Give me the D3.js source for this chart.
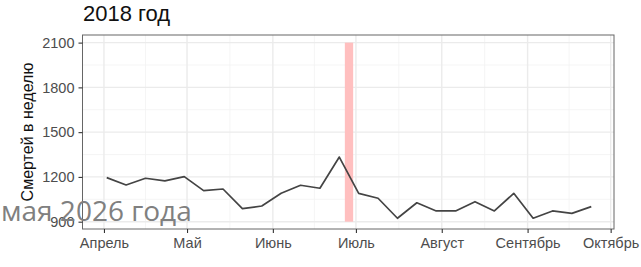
<!DOCTYPE html>
<html>
<head>
<meta charset="utf-8">
<script src="https://cdn.jsdelivr.net/npm/d3@7"></script>
<style>
  html, body { margin: 0; padding: 0; background: #fff; }
  svg { display: block; }
</style>
</head>
<body>
<svg id="chart" width="641" height="267"></svg>
<script>
// ---- data ----
const weekStarts = [
  "2018-04-02","2018-04-09","2018-04-16","2018-04-23","2018-04-30",
  "2018-05-07","2018-05-14","2018-05-21","2018-05-28","2018-06-04",
  "2018-06-11","2018-06-18","2018-06-25","2018-07-02","2018-07-09",
  "2018-07-16","2018-07-23","2018-07-30","2018-08-06","2018-08-13",
  "2018-08-20","2018-08-27","2018-09-03","2018-09-10","2018-09-17","2018-09-24"
];
const deaths = [
  1195, 1146, 1191, 1173, 1202,
  1108, 1119, 987, 1005, 1090,
  1144, 1124, 1333, 1090, 1057,
  923, 1027, 972, 972, 1034,
  972, 1090, 923, 972, 956, 1001
];
const highlightStart = ["2018-06-27"];
const highlightEnd = ["2018-06-30"];
const highlightLow = [900];
const highlightHigh = [2100];
const monthTicks = ["2018-04-01","2018-05-01","2018-06-01","2018-07-01","2018-08-01","2018-09-01","2018-10-01"];
const monthLabels = ["Апрель","Май","Июнь","Июль","Август","Сентябрь","Октябрь"];
const yTicks = [900, 1200, 1500, 1800, 2100];
const yMinor = [1050, 1350, 1650, 1950];
const titleText = "2018 год";
const yTitle = "Смертей в неделю";
const watermark = "мая 2026 года";

// ---- layout ----
const panel = { left: 82.5, right: 614, top: 35, bottom: 229 };
const parse = d3.utcParse("%Y-%m-%d");
const font = "'Liberation Sans', Arial, sans-serif";

const x = d3.scaleUtc()
  .domain([new Date(Date.UTC(2018, 2, 24, 6)), new Date(Date.UTC(2018, 9, 2, 5))])
  .range([panel.left, panel.right]);
const y = d3.scaleLinear()
  .domain([851, 2151])
  .range([panel.bottom, panel.top]);

const svg = d3.select("#chart");

// panel background
svg.append("rect")
  .attr("x", panel.left).attr("y", panel.top)
  .attr("width", panel.right - panel.left).attr("height", panel.bottom - panel.top)
  .attr("fill", "#fff");

// grid
const tickDates = monthTicks.map(parse);
const minorDates = d3.pairs(tickDates).map(([a, b]) => new Date((+a + +b) / 2));
const grid = svg.append("g");
grid.selectAll("line.mx").data(minorDates).join("line")
  .attr("x1", d => x(d)).attr("x2", d => x(d))
  .attr("y1", panel.top).attr("y2", panel.bottom)
  .attr("stroke", "#f2f2f2").attr("stroke-width", 0.8);
grid.selectAll("line.my").data(yMinor).join("line")
  .attr("x1", panel.left).attr("x2", panel.right)
  .attr("y1", d => y(d)).attr("y2", d => y(d))
  .attr("stroke", "#f2f2f2").attr("stroke-width", 0.8);
grid.selectAll("line.Mx").data(tickDates).join("line")
  .attr("x1", d => x(d)).attr("x2", d => x(d))
  .attr("y1", panel.top).attr("y2", panel.bottom)
  .attr("stroke", "#ebebeb").attr("stroke-width", 1.4);
grid.selectAll("line.My").data(yTicks).join("line")
  .attr("x1", panel.left).attr("x2", panel.right)
  .attr("y1", d => y(d)).attr("y2", d => y(d))
  .attr("stroke", "#ebebeb").attr("stroke-width", 1.4);

// highlight rect
svg.selectAll("rect.hl").data(highlightStart.map((s, i) => ({
    s: parse(s), e: parse(highlightEnd[i]), lo: highlightLow[i], hi: highlightHigh[i]
  }))).join("rect")
  .attr("x", d => x(d.s)).attr("width", d => x(d.e) - x(d.s))
  .attr("y", d => y(d.hi)).attr("height", d => y(d.lo) - y(d.hi))
  .attr("fill", "#ffbfbf");

// line
const pts = weekStarts.map((d, i) => ({ date: parse(d), v: deaths[i] }));
svg.append("path").datum(pts)
  .attr("fill", "none").attr("stroke", "#444").attr("stroke-width", 1.7)
  .attr("stroke-linejoin", "round")
  .attr("d", d3.line().x(d => x(d.date)).y(d => y(d.v)));

// panel border
svg.append("rect")
  .attr("x", panel.left).attr("y", panel.top)
  .attr("width", panel.right - panel.left).attr("height", panel.bottom - panel.top)
  .attr("fill", "none").attr("stroke", "#666").attr("stroke-width", 1);

// axes
const xAxis = d3.axisBottom(x).tickValues(tickDates)
  .tickFormat((d, i) => monthLabels[i]).tickSize(4).tickPadding(5);
const gx = svg.append("g").attr("transform", `translate(0,${panel.bottom})`).call(xAxis);
gx.select(".domain").remove();
gx.selectAll(".tick line").attr("stroke", "#333").attr("stroke-width", 1.1);
gx.selectAll(".tick text").attr("fill", "#4d4d4d")
  .style("font-family", font).style("font-size", "14.5px");

const yAxis = d3.axisLeft(y).tickValues(yTicks).tickFormat(d3.format("d"))
  .tickSize(4).tickPadding(4);
const gy = svg.append("g").attr("transform", `translate(${panel.left},0)`).call(yAxis);
gy.select(".domain").remove();
gy.selectAll(".tick line").attr("stroke", "#333").attr("stroke-width", 1.1);
gy.selectAll(".tick text").attr("fill", "#4d4d4d")
  .style("font-family", font).style("font-size", "14.5px");

// titles
svg.append("text").attr("x", 83).attr("y", 21)
  .style("font-family", font).style("font-size", "22px").attr("fill", "#111")
  .text(titleText);
svg.append("text")
  .attr("transform", `translate(32.5,${(panel.top + panel.bottom) / 2}) rotate(-90)`)
  .attr("text-anchor", "middle")
  .style("font-family", font).style("font-size", "16px").attr("fill", "#111")
  .text(yTitle);

// watermark overlay (as in reference)
svg.append("text").attr("x", 1).attr("y", 221)
  .style("font-family", "'Open Sans', sans-serif").style("font-size", "28px")
  .attr("fill", "#808080")
  .text(watermark);
</script>
</body>
</html>
